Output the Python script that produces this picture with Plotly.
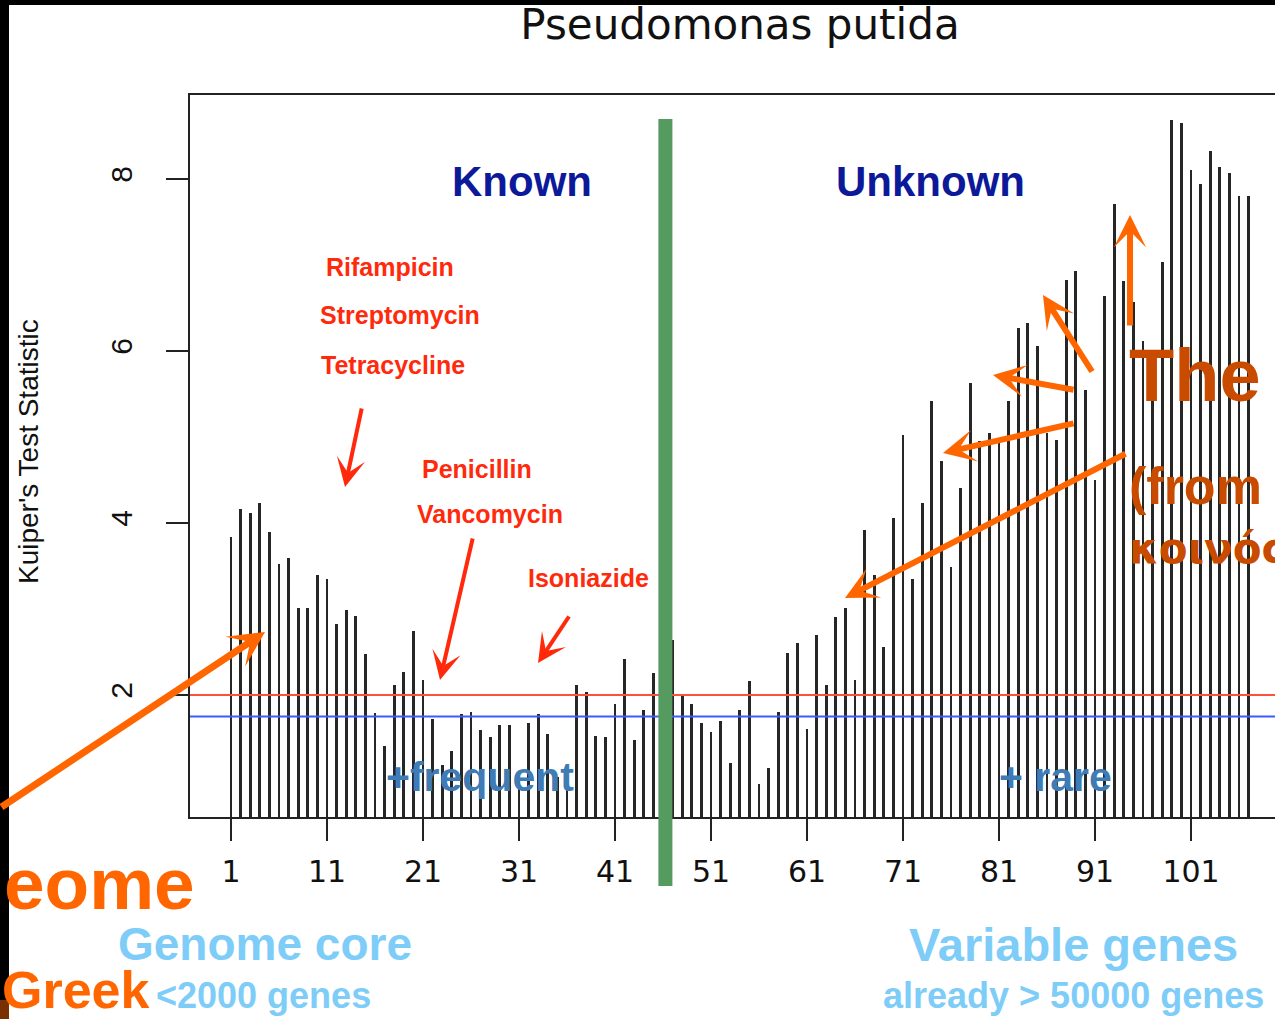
import plotly.graph_objects as go

# ---------------- data ----------------
gene_cluster = list(range(1, 108))
kuiper_stat = [
    3.84, 4.16, 4.12, 4.23, 3.89, 3.52, 3.59, 3.01, 3.01, 3.39,
    3.35, 2.83, 2.99, 2.92, 2.48, 1.79, 1.41, 2.12, 2.27, 2.75,
    2.17, 1.72, 1.19, 1.35, 1.78, 1.80, 1.59, 1.51, 1.65, 1.65,
    1.10, 1.68, 1.78, 1.55, 1.05, 1.10, 2.12, 2.03, 1.52, 1.51,
    1.90, 2.42, 1.48, 1.83, 2.26, 2.30, 2.64, 2.00, 1.90, 1.68,
    1.57, 1.70, 1.21, 1.83, 2.16, 0.97, 1.15, 1.80, 2.49, 2.61,
    1.60, 2.70, 2.12, 2.91, 3.01, 2.18, 3.92, 3.39, 2.56, 4.06,
    5.02, 3.35, 4.23, 5.42, 4.72, 3.49, 4.41, 5.63, 4.95, 5.05,
    4.93, 5.42, 6.27, 6.33, 6.06, 5.05, 4.96, 6.83, 6.93, 5.55,
    4.50, 6.64, 7.71, 6.81, 6.57, 6.12, 5.50, 7.03, 8.69, 8.65,
    8.10, 7.94, 8.33, 8.14, 8.07, 7.80, 7.80,
]
x_tick_vals = [1, 11, 21, 31, 41, 51, 61, 71, 81, 91, 101]
x_tick_text = ["1", "11", "21", "31", "41", "51", "61", "71", "81", "91", "101"]
y_tick_vals = [2, 4, 6, 8]
y_tick_text = ["2", "4", "6", "8"]
threshold_red = 2.0
threshold_blue = 1.75
known_unknown_split = 46.25

antibiotics = ["Rifampicin", "Streptomycin", "Tetracycline", "Penicillin", "Vancomycin", "Isoniazide"]

# ---------------- layout helpers (pixel -> paper) ----------------
W, H = 1275, 1019
L, R, T, B = 190, 1275, 95, 817


def px(x):
    return (x - L) / (R - L)


def py(y):
    return (B - y) / (B - T)


fig = go.Figure()
fig.add_trace(go.Bar(
    x=gene_cluster, y=kuiper_stat, width=0.3,
    marker=dict(color="#262626", line=dict(width=0)),
    showlegend=False, hoverinfo="x+y",
))

shapes = []
# threshold lines
shapes.append(dict(type="line", xref="paper", x0=0, x1=1, yref="y", y0=threshold_red, y1=threshold_red,
                   line=dict(color="rgb(255,80,60)", width=2.2)))
shapes.append(dict(type="line", xref="paper", x0=0, x1=1, yref="y", y0=threshold_blue, y1=threshold_blue,
                   line=dict(color="rgb(60,90,255)", width=2.2)))
# green separator
shapes.append(dict(type="rect", xref="x", x0=known_unknown_split - 0.73, x1=known_unknown_split + 0.73,
                   yref="paper", y0=py(886), y1=py(119),
                   fillcolor="#559a5f", line=dict(width=0)))
# black frame bits of the photo
shapes.append(dict(type="rect", xref="paper", yref="paper", x0=px(0), x1=px(9), y0=py(1000), y1=py(0),
                   fillcolor="black", line=dict(width=0), layer="below"))
shapes.append(dict(type="rect", xref="paper", yref="paper", x0=px(0), x1=px(1275), y0=py(5), y1=py(0),
                   fillcolor="black", line=dict(width=0), layer="below"))
shapes.append(dict(type="rect", xref="paper", yref="paper", x0=px(0), x1=px(9), y0=py(1019), y1=py(1000),
                   fillcolor="#7a3000", line=dict(width=0), layer="below"))

ann = []


def text(x, y, s, size, color, bold=True, family="Liberation Sans", xanchor="center", angle=0):
    ann.append(dict(xref="paper", yref="paper", x=px(x), y=py(y), text=("<b>%s</b>" % s) if bold else s,
                    showarrow=False, xanchor=xanchor, yanchor="middle", textangle=angle,
                    font=dict(size=size, color=color, family=family)))


def arrow(tx, ty, hx, hy, color, width, size, head=3):
    ann.append(dict(xref="paper", yref="paper", x=px(hx), y=py(hy), ax=tx - hx, ay=ty - hy,
                    axref="pixel", ayref="pixel", text="", showarrow=True, arrowhead=head,
                    arrowsize=size, arrowwidth=width, arrowcolor=color, standoff=0, startstandoff=0))


# region labels
text(522, 181, "Known", 42, "#0c1a9a")
text(930, 181, "Unknown", 42, "#0c1a9a")

red = "#ff2a0c"
text(390, 267, antibiotics[0], 25, red)
text(400, 315, antibiotics[1], 25, red)
text(393, 365, antibiotics[2], 25, red)
text(477, 469, antibiotics[3], 25, red)
text(490, 514, antibiotics[4], 25, red)
text(588, 578, antibiotics[5], 25, red)

arrow(362, 407, 345, 487, red, 4, 1.2)
arrow(473, 537, 440, 680, red, 4, 1.2)
arrow(570, 615, 538, 663, red, 4, 1.2)

orange = "#ff6600"
arrow(-5, 808, 265, 632, orange, 7, 0.85)
arrow(1127, 453, 845, 598, orange, 6, 0.9)
arrow(1075, 423, 943, 453, orange, 6, 0.9)
arrow(1075, 390, 993, 375, orange, 6, 0.9)
arrow(1093, 373, 1043, 295, orange, 6, 0.9)
arrow(1130, 327, 1130, 215, orange, 6, 0.9)

steel = "#3f7bb5"
text(480, 777, "+frequent", 41, steel)
text(1055, 777, "+ rare", 41, steel)

dark_orange = "#c84b00"
text(1127, 376, "The", 74, dark_orange, xanchor="left")
text(1127, 486, "(from", 52, dark_orange, xanchor="left")
text(1127, 548, "κοινός", 42, dark_orange, xanchor="left", family="DejaVu Sans")

text(197, 883, "eome", 73, orange, xanchor="right")
text(0, 990, "Greek", 52, orange, xanchor="left")

sky = "#7dcdf8"
text(265, 944, "Genome core", 46, sky)
text(263, 995, "&lt;2000 genes", 36, sky)
text(1073, 944, "Variable genes", 47, sky)
text(1073, 995, "already &gt; 50000 genes", 36, sky)

# axis title
text(28, 452, "Kuiper's Test Statistic", 28, "#111", bold=False, angle=-90)

fig.update_layout(
    width=W, height=H, autosize=False,
    margin=dict(l=L, r=W - R, t=T, b=H - B, pad=0),
    paper_bgcolor="white", plot_bgcolor="white",
    bargap=0,
    title=dict(text="Pseudomonas putida", x=740 / W, xanchor="center", y=1 - 24 / H, yanchor="middle",
               font=dict(family="DejaVu Sans", size=42, color="#111")),
    shapes=shapes, annotations=ann,
    xaxis=dict(range=[1 - (231 - L) / 9.6, 1 + (R - 231) / 9.6], tickvals=x_tick_vals, ticktext=x_tick_text,
               ticks="outside", ticklen=22, tickwidth=2, tickcolor="#222",
               showline=True, linecolor="#222", linewidth=2, mirror=True,
               showgrid=False, zeroline=False, ticklabelstandoff=5,
               tickfont=dict(family="DejaVu Sans", size=30, color="#111")),
    yaxis=dict(range=[2 - (B - 695) / 86, 2 + (695 - T) / 86], tickvals=y_tick_vals, ticktext=y_tick_text,
               ticks="outside", ticklen=22, tickwidth=2, tickcolor="#222", tickangle=-90,
               showline=True, linecolor="#222", linewidth=2, mirror=False,
               showgrid=False, zeroline=False, ticklabelstandoff=22,
               tickfont=dict(family="Liberation Sans", size=30, color="#111")),
)

fig.write_html("out.html", config={"displayModeBar": False},
               post_script="document.body.style.margin='0';document.body.style.overflow='hidden';")
